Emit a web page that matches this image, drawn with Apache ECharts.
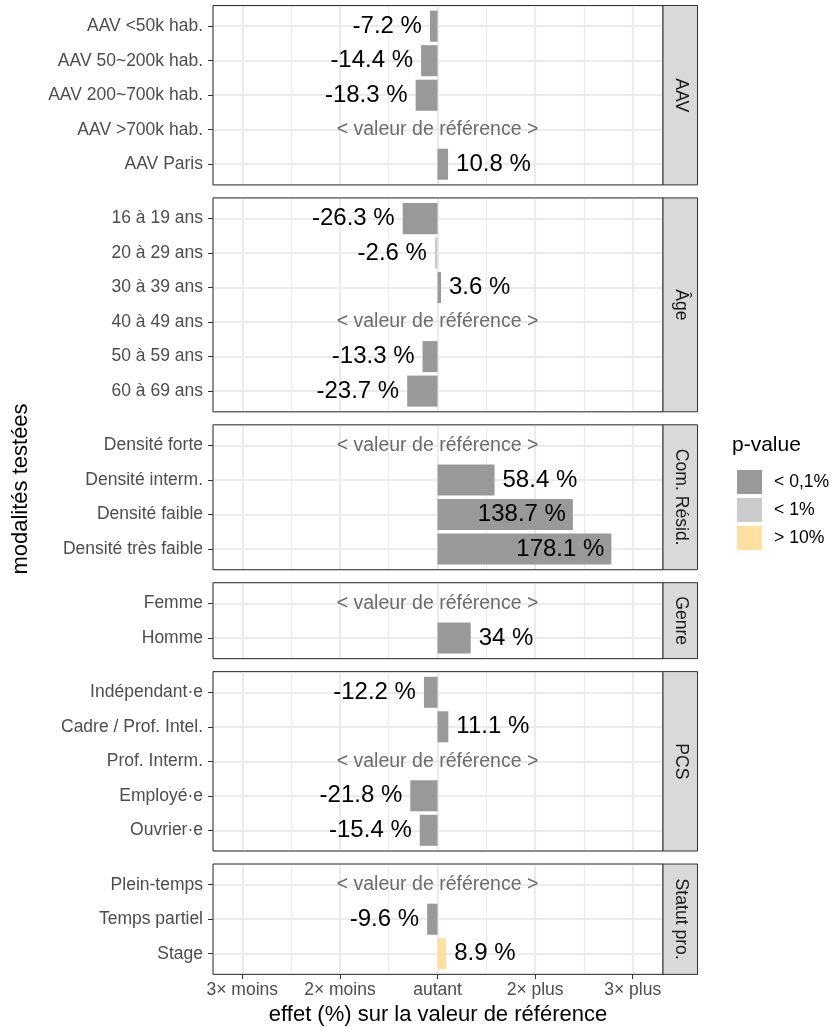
<!DOCTYPE html>
<html>
<head>
<meta charset="utf-8">
<title>effet (%) sur la valeur de référence</title>
<script src="https://cdn.jsdelivr.net/npm/echarts@6/dist/echarts.min.js"></script>
<style>
  html, body { margin: 0; padding: 0; background: #fff; }
  #chart { width: 834px; height: 1027px; }
</style>
</head>
<body>
<div id="chart"></div>
<script>
// --- données (null = valeur de référence) ---
const facets = ['AAV', 'Âge', 'Com. Résid.', 'Genre', 'PCS', 'Statut pro.'];

const aavCats = ['AAV <50k hab.', 'AAV 50~200k hab.', 'AAV 200~700k hab.', 'AAV >700k hab.', 'AAV Paris'];
const aavEffects = [-7.2, -14.4, -18.3, null, 10.8];
const aavPvals = ['< 0,1%', '< 0,1%', '< 0,1%', null, '< 0,1%'];

const ageCats = ['16 à 19 ans', '20 à 29 ans', '30 à 39 ans', '40 à 49 ans', '50 à 59 ans', '60 à 69 ans'];
const ageEffects = [-26.3, -2.6, 3.6, null, -13.3, -23.7];
const agePvals = ['< 0,1%', '< 1%', '< 0,1%', null, '< 0,1%', '< 0,1%'];

const comCats = ['Densité forte', 'Densité interm.', 'Densité faible', 'Densité très faible'];
const comEffects = [null, 58.4, 138.7, 178.1];
const comPvals = [null, '< 0,1%', '< 0,1%', '< 0,1%'];

const genreCats = ['Femme', 'Homme'];
const genreEffects = [null, 34];
const genrePvals = [null, '< 0,1%'];

const pcsCats = ['Indépendant·e', 'Cadre / Prof. Intel.', 'Prof. Interm.', 'Employé·e', 'Ouvrier·e'];
const pcsEffects = [-12.2, 11.1, null, -21.8, -15.4];
const pcsPvals = ['< 0,1%', '< 0,1%', null, '< 0,1%', '< 0,1%'];

const statutCats = ['Plein-temps', 'Temps partiel', 'Stage'];
const statutEffects = [null, -9.6, 8.9];
const statutPvals = [null, '< 0,1%', '> 10%'];

const pvalueLevels = ['< 0,1%', '< 1%', '> 10%'];
const xTickValues = [-2, -1, 0, 1, 2];
const xTickLabels = ['3× moins', '2× moins', 'autant', '2× plus', '3× plus'];

// --- style / mise en page ---
const pvalueColors = ['#999999', '#CCCCCC', '#FFE0A3'];
const FONT = '"Liberation Sans", Arial, Helvetica, sans-serif';
const BAND = 34.5, GAP = 13, TOP0 = 5.5, LEFT = 213, RIGHT = 171;
const XMIN = -2.3, XMAX = 2.31;

const panels = [
  { cats: aavCats, vals: aavEffects, pv: aavPvals },
  { cats: ageCats, vals: ageEffects, pv: agePvals },
  { cats: comCats, vals: comEffects, pv: comPvals },
  { cats: genreCats, vals: genreEffects, pv: genrePvals },
  { cats: pcsCats, vals: pcsEffects, pv: pcsPvals },
  { cats: statutCats, vals: statutEffects, pv: statutPvals }
];

// 2x plus = +100 %, 2x moins = -50 % -> symétrique
function toScale(p) {
  return p >= 0 ? p / 100 : 1 - 1 / (1 + p / 100);
}

const grid = [], xAxis = [], yAxis = [], series = [], graphic = [];
const hidden = { axisLabel: { show: false }, axisTick: { show: false }, axisLine: { show: false, onZero: false } };
let panelTop = TOP0;

panels.forEach((p, k) => {
  const n = p.cats.length;
  const h = (n + 0.2) * BAND;
  const last = k === panels.length - 1;

  // fond du panneau + grille
  grid.push({ left: LEFT, right: RIGHT, top: panelTop, height: h });
  // grille mineure
  xAxis.push(Object.assign({ type: 'value', gridIndex: 2 * k, position: 'top', min: XMIN, max: XMAX,
    minInterval: 0.5, maxInterval: 0.5,
    splitLine: { show: true, lineStyle: { color: '#EBEBEB', width: 1.2 } } }, hidden));
  // grille majeure (+ axe du bas)
  const major = { type: 'value', gridIndex: 2 * k, position: 'bottom', min: XMIN, max: XMAX,
    minInterval: 1, maxInterval: 1,
    splitLine: { show: true, lineStyle: { color: '#EBEBEB', width: 2 } },
    axisLine: { show: false, onZero: false } };
  if (last) {
    major.axisTick = { show: true, length: 5, customValues: xTickValues,
      lineStyle: { color: '#333333', width: 1 } };
    major.axisLabel = { show: true, customValues: xTickValues, margin: 7,
      color: '#4D4D4D', fontSize: 17.5, fontFamily: FONT,
      formatter: v => xTickLabels[xTickValues.indexOf(v)] };
    major.name = 'effet (%) sur la valeur de référence';
    major.nameLocation = 'middle';
    major.nameGap = 30;
    major.nameTextStyle = { color: '#000', fontSize: 22, fontFamily: FONT };
  } else {
    major.axisTick = { show: false };
    major.axisLabel = { show: false };
  }
  xAxis.push(major);
  yAxis.push(Object.assign({ type: 'value', gridIndex: 2 * k, min: -0.6, max: n - 0.4,
    inverse: true, minInterval: 1, maxInterval: 1,
    splitLine: { show: true, lineStyle: { color: '#EBEBEB', width: 2 } } }, hidden));

  // barres
  grid.push({ left: LEFT, right: RIGHT, top: panelTop + 0.1 * BAND, height: n * BAND });
  xAxis.push({ type: 'value', gridIndex: 2 * k + 1, min: XMIN, max: XMAX, show: false });
  yAxis.push({ type: 'category', gridIndex: 2 * k + 1, inverse: true, data: p.cats,
    position: 'left',
    axisLine: { show: false, onZero: false },
    axisTick: { show: true, alignWithLabel: true, length: 5, lineStyle: { color: '#333333', width: 1 } },
    axisLabel: { color: '#4D4D4D', fontSize: 17.5, fontFamily: FONT, margin: 10 },
    splitLine: { show: false } });

  series.push({
    type: 'bar', xAxisIndex: 3 * k + 2, yAxisIndex: 2 * k + 1, barWidth: '90%',
    data: p.vals.map((v, i) => {
      if (v == null) {
        return { value: 0, label: { show: true, position: 'inside',
          formatter: '< valeur de référence >', color: '#6B6B6B', fontSize: 19.5, fontFamily: FONT } };
      }
      const t = toScale(v);
      const pos = t < 0 ? 'left' : (t > 1 ? 'insideRight' : 'right');
      return { value: t,
        itemStyle: { color: pvalueColors[pvalueLevels.indexOf(p.pv[i])] },
        label: { show: true, position: pos, distance: pos === 'insideRight' ? 7 : 8,
          formatter: v + ' %', color: '#000', fontSize: 24, fontFamily: FONT } };
    })
  });

  // cadre du panneau
  graphic.push({ type: 'rect', z: 50, shape: { x: LEFT, y: panelTop, width: 834 - RIGHT - LEFT, height: h },
    style: { fill: 'none', stroke: '#333333', lineWidth: 1 } });
  // bandeau de facette
  graphic.push({ type: 'rect', z: 50, shape: { x: 834 - RIGHT, y: panelTop, width: 34.5, height: h },
    style: { fill: '#D9D9D9', stroke: '#333333', lineWidth: 1 } });
  graphic.push({ type: 'text', z: 51, x: 834 - RIGHT + 17.5, y: panelTop + h / 2, rotation: -Math.PI / 2,
    style: { text: facets[k], fill: '#1A1A1A', fontSize: 17.6, fontFamily: FONT,
      textAlign: 'center', textVerticalAlign: 'middle' } });

  panelTop += h + GAP;
});

// titre de l'axe vertical
graphic.push({ type: 'text', x: 21, y: 489, rotation: Math.PI / 2,
  style: { text: 'modalités testées', fill: '#000', fontSize: 22, fontFamily: FONT,
    textAlign: 'center', textVerticalAlign: 'middle' } });
// titre de la légende
graphic.push({ type: 'text', x: 732, y: 445,
  style: { text: 'p-value', fill: '#000', fontSize: 21, fontFamily: FONT,
    textAlign: 'left', textVerticalAlign: 'middle' } });

// séries vides pour la légende
pvalueLevels.forEach((name, i) => {
  series.push({ type: 'scatter', name: name, xAxisIndex: 0, yAxisIndex: 0, data: [],
    itemStyle: { color: pvalueColors[i], opacity: 1 } });
});

const myChart = echarts.init(document.getElementById('chart'), null, { renderer: 'canvas' });
myChart.setOption({
  animation: false,
  backgroundColor: '#fff',
  grid: grid,
  xAxis: xAxis,
  yAxis: yAxis,
  legend: {
    orient: 'vertical', left: 732, top: 465, itemWidth: 25, itemHeight: 24, itemGap: 4,
    icon: 'rect', data: pvalueLevels, selectedMode: false,
    itemStyle: { opacity: 1 },
    textStyle: { color: '#000', fontSize: 17.6, fontFamily: FONT, padding: [0, 0, 0, 7] }
  },
  graphic: graphic,
  series: series
});
</script>
</body>
</html>
